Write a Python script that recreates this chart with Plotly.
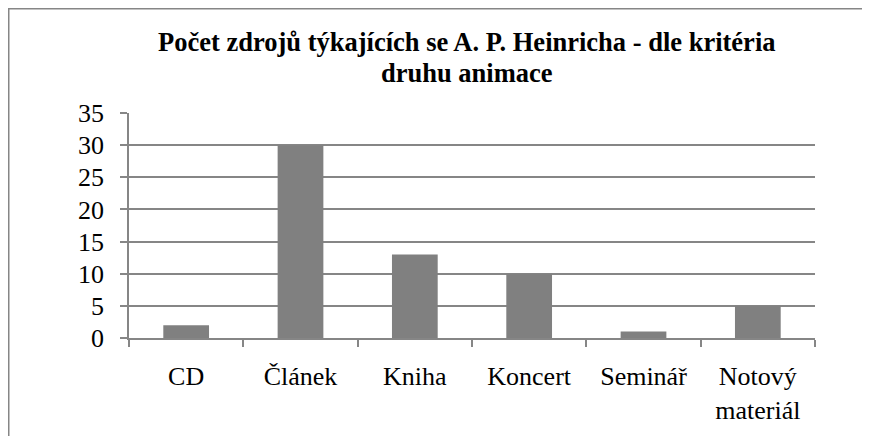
import plotly.graph_objects as go

categories = ["CD", "Článek", "Kniha", "Koncert", "Seminář", "Notový<br>materiál"]
values = [2, 30, 13, 10, 1, 5]
y_ticks = [0, 5, 10, 15, 20, 25, 30, 35]
title_lines = ["Počet zdrojů týkajících se A. P. Heinricha - dle kritéria", "druhu animace"]

OFF = 8  # page body margin
W, H = 870, 436
L, R, T, B = 129 - OFF, 55 + OFF, 113 - OFF, 98 + OFF
pw = W - L - R
ph = H - T - B
FONT = "Liberation Serif"
GRAY = "#868686"

fig = go.Figure(go.Bar(x=categories, y=values, marker=dict(color="#808080", line=dict(width=0))))

fig.update_layout(
    width=W, height=H,
    margin=dict(l=L, r=R, t=T, b=B),
    paper_bgcolor="white", plot_bgcolor="white",
    bargap=0.6,
    font=dict(family=FONT, color="black", size=26),
    showlegend=False,
)
for i, (line, yc) in enumerate(zip(title_lines, [42, 73])):
    fig.add_annotation(
        text=f"<b>{line}</b>", xref="paper", yref="paper",
        x=(467 - OFF - L) / pw, xanchor="center",
        y=(H - B - (yc - OFF)) / ph, yanchor="middle",
        showarrow=False, font=dict(size=26.5, family=FONT, color="black"),
    )
fig.update_xaxes(
    showline=True, linecolor=GRAY, linewidth=1.5,
    ticks="outside", tickson="boundaries", ticklen=7, tickcolor=GRAY, tickwidth=1.5,
    showgrid=False, tickfont=dict(size=26, family=FONT), ticklabelstandoff=14,
)
fig.update_yaxes(
    range=[0, 35], tickvals=y_ticks,
    showline=True, linecolor=GRAY, linewidth=1.5,
    ticks="outside", ticklen=7, tickcolor=GRAY, tickwidth=1.5,
    showgrid=True, gridcolor=GRAY, gridwidth=1.5,
    zeroline=False, tickfont=dict(size=26, family=FONT), ticklabelstandoff=11,
)
fig.add_shape(
    type="rect", xref="paper", yref="paper",
    x0=(0.75 - L) / pw, x1=(W + 10 - L) / pw,
    y0=-(H + 10 - T - ph) / ph, y1=(H - B - 0.75) / ph,
    line=dict(color=GRAY, width=1.5), fillcolor="rgba(0,0,0,0)", layer="below",
)
fig.write_html("out.html")
